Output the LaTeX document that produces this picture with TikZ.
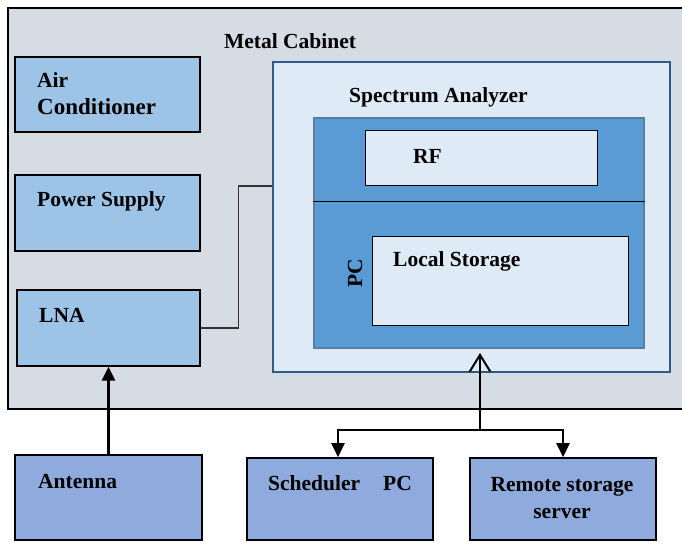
\documentclass[tikz,border=0pt]{standalone}
\usepackage{fontspec}
\setmainfont{Liberation Serif}
\usepackage{tikz}
\usetikzlibrary{positioning,arrows.meta,calc}
\definecolor{cabgray}{HTML}{D6DCE4}
\definecolor{lblue}{HTML}{9DC3E6}
\definecolor{paleblue}{HTML}{DEEBF7}
\definecolor{midblue}{HTML}{5B9BD5}
\definecolor{edgeblue}{HTML}{2E5C8A}
\definecolor{extblue}{HTML}{8FAADC}
\newcommand{\bt}[1]{\bfseries\fontsize{21.5}{27}\selectfont #1}

\begin{document}
\begin{tikzpicture}[x=1pt, y=1pt,
        box/.style={rectangle, draw=black, line width=1.3pt, fill=lblue, inner sep=0pt},
        txt/.style={inner sep=0pt, font=\bt{}, align=left},
        wire/.style={line width=1.3pt, black!80},
        arr/.style={-{Triangle[length=14pt,width=13pt]}, line width=2.4pt},
        openarr/.style={-{Straight Barb[length=17pt,width=21pt,line width=2pt]}, line width=2.4pt}
      ]
        \useasboundingbox (0,0) rectangle (682,545);
        % cabinet and inner units
        \node[box, fill=cabgray, line width=2.2pt, minimum width=676pt, minimum height=401pt] (cab) at (346,336.5) {};
        \node[txt] (cabtxt) at (290,504) {Metal Cabinet};
        \node[box, minimum width=185pt, minimum height=75pt] (air) at (107.5,450.5) {};
        \node[box, minimum width=185pt, minimum height=76pt] (psu) at (107.5,332) {};
        \node[box, minimum width=183pt, minimum height=76pt] (lna) at (108.5,217) {};
        \node[txt, anchor=west] at (37,451) {Air\\{\fontsize{23}{27}\selectfont Conditioner}};
        \node[txt, anchor=west] at (37,344) {Power Supply};
        \node[txt, anchor=west] at (39,230) {LNA};
        % spectrum analyzer
        \node[box, fill=paleblue, draw=edgeblue, line width=1.8pt, minimum width=397pt, minimum height=310pt] (sa) at (471.5,328) {};
        \node[txt, anchor=west] at (349,448) {Spectrum Analyzer};
        \node[box, fill=midblue, draw=edgeblue!80, line width=1.5pt, minimum width=330pt, minimum height=230pt] (pcb) at (479,312) {};
        \draw[line width=0.8pt] (pcb.west |- 0,344) -- (pcb.east |- 0,344);
        \node[box, fill=paleblue, line width=1pt, minimum width=232pt, minimum height=55pt] (rf) at (481,386.5) {};
        \node[txt, anchor=west] at (413,389) {RF};
        \node[box, fill=paleblue, line width=1pt, minimum width=256pt, minimum height=89pt] (lst) at (500,263.5) {};
        \node[txt, anchor=west] at (393,284) {Local Storage};
        \node[txt, rotate=90] (pctxt) at (355,272) {PC};
        % outside units
        \node[box, fill=extblue, line width=1.6pt, minimum width=187pt, minimum height=85pt] (ant) at (108.5,47.5) {};
        \node[box, fill=extblue, line width=1.6pt, minimum width=186pt, minimum height=82pt] (sch) at (340,46) {};
        \node[box, fill=extblue, line width=1.6pt, minimum width=186pt, minimum height=82pt] (rem) at (563,46) {};
        \node[txt, anchor=west] at (38,63) {Antenna};
        \node[txt, anchor=west] at (268,62) {Scheduler\hspace{23pt}PC};
        \node[txt, align=center] at (562,47) {Remote storage\\server};
        % links
        \draw[wire] (lna.east) -- ++(38,0) |- ([yshift=31pt]sa.west);
        \draw[arr] (ant.north) -- (lna.south);
        \coordinate (hub) at (480,115);
        \coordinate (saIn) at (480,192);
        \draw[openarr] (hub) -- (saIn);
        \draw[arr] (hub) -| ([xshift=-2pt]sch.north);
        \draw[arr] (hub) -| (rem.north);
      \end{tikzpicture}
\end{document}
